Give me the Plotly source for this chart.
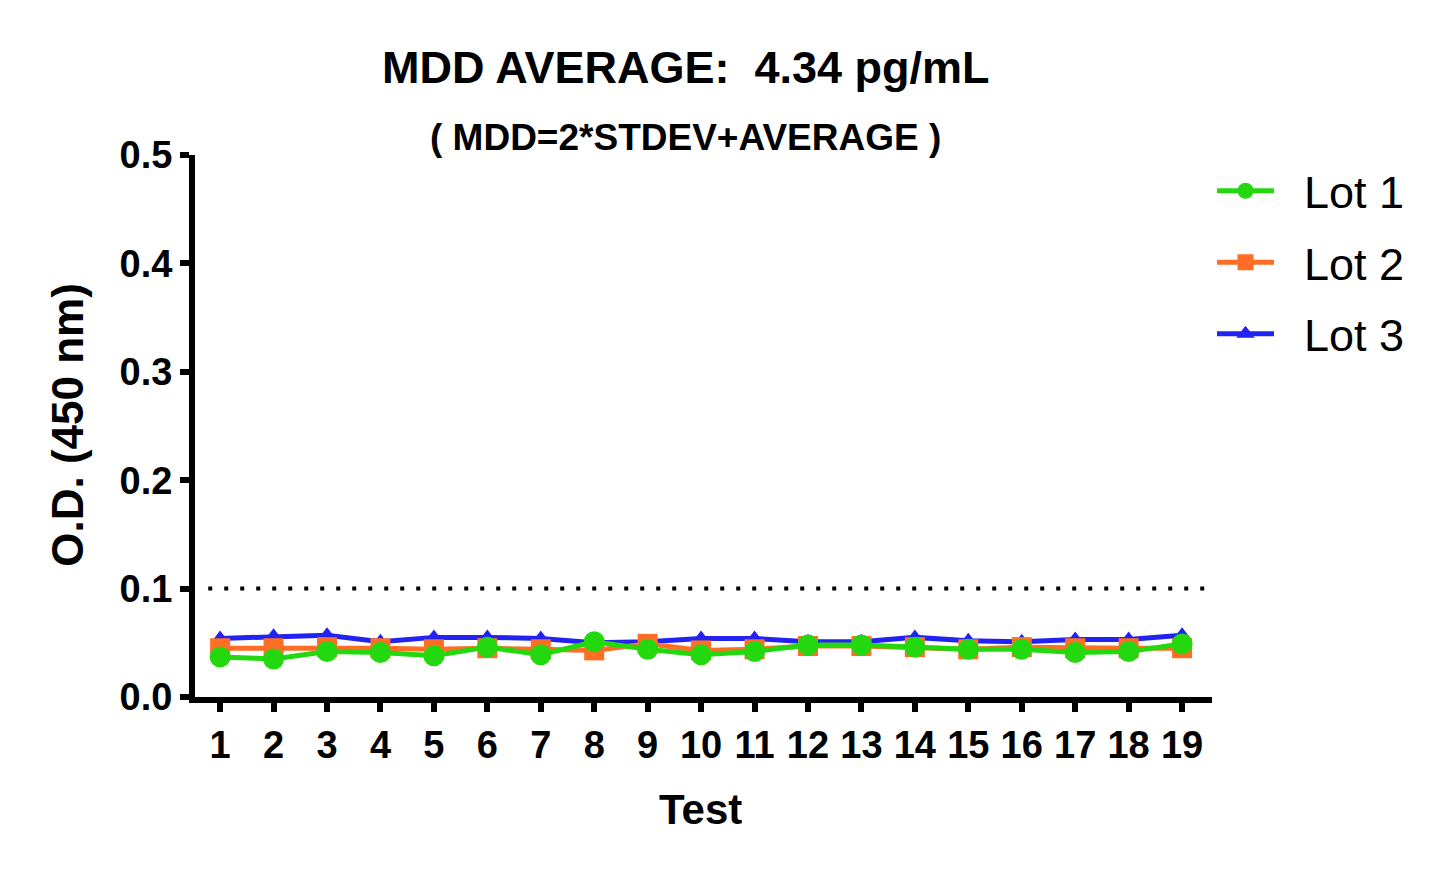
import plotly.graph_objects as go

tests = list(range(1, 20))
lot1 = [0.037, 0.035, 0.042, 0.041, 0.038, 0.046, 0.039, 0.051, 0.044, 0.039,
        0.042, 0.048, 0.048, 0.046, 0.044, 0.044, 0.041, 0.042, 0.049]
lot2 = [0.045, 0.045, 0.046, 0.045, 0.044, 0.045, 0.044, 0.043, 0.049, 0.043,
        0.044, 0.047, 0.047, 0.046, 0.044, 0.046, 0.045, 0.045, 0.045]
lot3 = [0.054, 0.056, 0.057, 0.051, 0.055, 0.055, 0.054, 0.050, 0.051, 0.054,
        0.054, 0.051, 0.051, 0.055, 0.052, 0.051, 0.053, 0.053, 0.057]
mdd_line = 0.1
y_ticks = [0, 0.1, 0.2, 0.3, 0.4, 0.5]

font = 'Liberation Sans, Arial, sans-serif'
pad = '&nbsp;&nbsp;'  # gap between legend symbol and text

fig = go.Figure()
# drawn bottom to top: Lot 3, Lot 2, Lot 1 (legend ranks put Lot 1 on top)
fig.add_trace(go.Scatter(x=tests, y=lot3, name=pad + 'Lot 3', legendgroup='3', legendrank=3,
                         mode='lines+markers', line=dict(color='#2222F2', width=5),
                         marker=dict(symbol='triangle-up', size=16, color='#2222F2')))
fig.add_trace(go.Scatter(x=tests, y=lot2, name=pad + 'Lot 2', legendgroup='2', legendrank=2,
                         mode='lines+markers', line=dict(color='#FF6E24', width=5),
                         marker=dict(symbol='square', size=20, color='#FF6E24')))
fig.add_trace(go.Scatter(x=tests, y=lot1, name=pad + 'Lot 1', legendgroup='1', legendrank=1,
                         mode='lines+markers', line=dict(color='#24D810', width=5),
                         marker=dict(symbol='circle', size=21, color='#24D810')))

# dotted MDD reference line
fig.add_shape(type='line', xref='paper', yref='y', x0=0.013, x1=1.0, y0=mdd_line, y1=mdd_line,
              line=dict(color='black', width=4, dash='4px,12px'))
# x axis line sticks out left of the y axis
fig.add_shape(type='line', xref='paper', yref='paper', x0=-0.012, x1=0.0, y0=0, y1=0,
              line=dict(color='black', width=6))

fig.add_annotation(text='<b>MDD AVERAGE:&nbsp; 4.34 pg/mL</b>', xref='paper', yref='paper',
                   x=0.483, y=1.162, xanchor='center', yanchor='middle', showarrow=False,
                   font=dict(size=45, color='black'))
fig.add_annotation(text='<b>( MDD=2*STDEV+AVERAGE )</b>', xref='paper', yref='paper',
                   x=0.482, y=1.033, xanchor='center', yanchor='middle', showarrow=False,
                   font=dict(size=37, color='black'))
fig.add_annotation(text='<b>O.D. (450 nm)</b>', xref='paper', yref='paper', textangle=-90,
                   x=-0.125, y=0.502, xanchor='center', yanchor='middle', showarrow=False,
                   font=dict(size=44, color='black'))
fig.add_annotation(text='<b>Test</b>', xref='paper', yref='paper',
                   x=0.497, y=-0.208, xanchor='center', yanchor='middle', showarrow=False,
                   font=dict(size=42, color='black'))

fig.update_layout(
    width=1445, height=875,
    # page body adds 8px, so margins are shifted back by that
    margin=dict(l=187, r=241, t=147, b=186),
    paper_bgcolor='white', plot_bgcolor='white',
    font=dict(family=font, color='black'),
    showlegend=True,
    legend=dict(x=1.0, xanchor='left', y=1.0, yanchor='top', traceorder='grouped',
                font=dict(size=45), tracegroupgap=10, itemwidth=57, bgcolor='rgba(0,0,0,0)'),
)
tick_font = dict(size=38, family=font, weight='bold', color='black')
fig.update_xaxes(range=[0.53, 19.56], tickvals=tests, showgrid=False, zeroline=False,
                 showline=True, linecolor='black', linewidth=6,
                 ticks='outside', ticklen=9, tickwidth=6, tickcolor='black',
                 ticklabelstandoff=0, tickfont=tick_font)
fig.update_yaxes(range=[0, 0.5], tickvals=y_ticks, tickformat='.1f', showgrid=False, zeroline=False,
                 showline=True, linecolor='black', linewidth=6,
                 ticks='outside', ticklen=9, tickwidth=6, tickcolor='black',
                 ticklabelstandoff=0, tickfont=tick_font)

fig.write_html('out.html')
